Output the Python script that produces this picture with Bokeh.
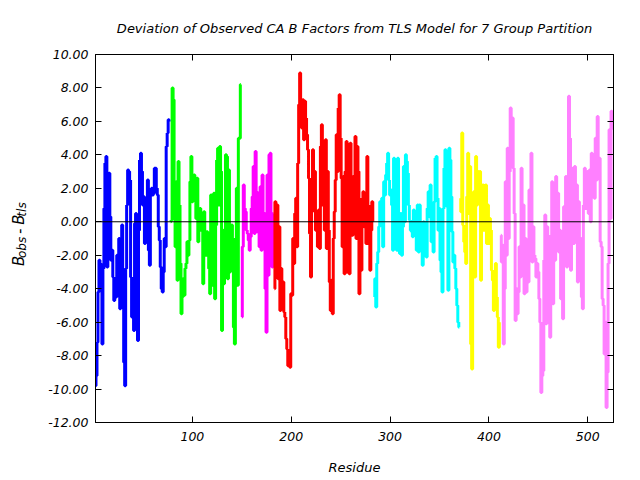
import math
import numpy as np
from bokeh.plotting import figure
from bokeh.layouts import row
from bokeh.models import Range1d, FixedTicker, PrintfTickFormatter, LinearAxis, Span
from bokeh.core.properties import value
from bokeh.embed import file_html
from bokeh.resources import INLINE

# ---- data: deviation per residue, one array per TLS group ----
group_names = ["group1", "group2", "group3", "group4", "group5", "group6", "group7"]
group_colors = ["#0000ff", "#00ff00", "#ff00ff", "#ff0000", "#00ffff", "#ffff00", "#ff80ff"]
group_starts = [2, 78, 150, 183, 284, 371, 412]

g1 = [-9.8, -9.2, -7.2, -4.2, -2.3, -2.5, -3.8, -7.3, -2.8, 0.8, 3.5, 3.9, -2.7, 2.5, 2.9, 0.3,
      -2.3, -1.7, -3.3, -4.7, -3.7, -4.5, -2.0, -4.1, -1.0, -5.2, -1.5, -0.2, -5.0, -8.4, -9.8, -2.8,
      1.0, 3.1, 3.0, 2.5, -3.3, -5.7, -3.5, -6.5, -0.1, 0.5, -3.7, -7.1, -0.5, 3.7, 4.1, 3.0,
      1.0, 1.5, -1.3, 0.5, -0.5, 2.5, -1.7, -2.6, 1.8, 2.0, 1.6, 1.7, 3.2, 3.2, 2.0, 1.6,
      -0.3, -1.1, -2.7, -4.0, -4.2, -3.0, -1.0, -1.5, 4.5, 5.3, 6.1, 6.0]
g2 = [0.0, 0.1, 8.0, 7.3, 2.0, -1.5, 2.4, -3.5, 3.6, 1.0, -2.5, -5.5, -4.5, -3.4, -4.4, -2.8,
      -2.5, -1.2, -2.0, -1.1, 2.4, 3.9, 1.2, 2.2, 2.8, 1.5, 0.2, 2.6, -1.2, 0.5, 0.8, -0.5,
      -0.1, -3.7, 0.6, -0.6, -2.0, -0.6, -0.7, -2.8, -4.3, 1.6, -1.2, -3.8, 1.7, -4.6, -0.2, 3.7,
      4.4, 1.0, 4.5, 3.0, -6.5, -0.5, -3.7, -1.5, 4.0, 3.9, -3.4, 3.1, -3.0, -0.5, -0.2, -1.0,
      -6.3, -7.3, -1.0, 2.0, -3.8, 5.0, 5.0, 8.2]
g3 = [-5.7, -1.5, 2.2, 0.8, 0.6, -0.5, -0.7, -1.1, -1.7, -0.9, 0.8, 1.5, 3.3, -0.7, 4.2, 1.8,
      -0.6, 1.5, -1.5, 2.1, -1.7, 2.8, -1.0, 0.5, -4.0, -6.6, 2.8, -3.2, 4.0, 4.1, -0.5, -2.7, 0.5]
g4 = [-4.0, 1.2, -0.5, 1.0, -3.4, -0.3, -5.3, -2.8, -4.4, -3.6, -5.4, -5.7, -7.0, -7.6, -8.6, -7.8,
      -8.7, -4.3, -4.4, -1.0, -2.5, 0.5, 1.4, -1.5, 3.5, 7.0, 8.9, 6.7, 5.6, 7.3, 4.9, 7.2,
      6.2, 5.2, 4.3, 2.6, -0.7, -3.3, 0.6, 4.3, 2.0, 3.0, -0.5, 0.6, -1.5, 0.7, -1.6, 4.5,
      5.8, 1.0, 4.8, -0.5, 4.9, -1.6, 3.0, -0.5, -3.6, -5.3, -3.5, -5.5, -1.0, 0.6, 2.5, 5.2,
      3.0, 6.8, 7.6, 5.0, 2.6, -1.5, 2.7, -3.1, 3.0, 4.8, -3.0, 0.5, -3.1, 4.7, 0.3, -0.8,
      2.7, 0.5, 5.1, -1.0, 4.5, 3.0, -4.3, 0.0, -2.9, 1.4, 1.8, -0.3, 1.2, -1.3, 3.9, 1.0,
      -1.3, -2.9, -0.5, 1.2, 0.0]
g5 = [-4.5, -3.4, -5.1, -2.5, -1.8, -0.3, 1.2, 0.3, 1.4, -1.5, 2.4, 1.6, 2.8, 3.5, 4.1, 2.5,
      1.6, 1.9, 1.0, -1.7, 3.8, 1.5, 0.0, -1.7, 3.8, -1.1, -1.9, 0.5, -2.0, -0.3, 3.3, 0.0,
      4.0, 3.6, 2.9, 1.0, 0.1, -0.5, -0.6, -0.9, 0.7, -0.5, 0.3, -1.7, 1.0, -1.8, 1.0, -0.4,
      -0.6, -2.6, 0.0, -1.5, -0.4, -2.1, 0.8, 1.8, 0.3, 2.2, -1.2, 1.0, -1.8, 1.2, 3.8, 3.9,
      1.4, -0.5, 0.8, -2.3, -3.0, -4.2, 0.8, 3.2, 4.3, 1.0, 0.9, -4.1, 4.4, 3.7, 1.5, -0.6,
      -2.4, -2.0, -2.8, -4.0, -5.0, -6.0, -6.3]
g6 = [1.4, 0.6, 5.3, -0.2, -1.2, -1.8, -2.5, 1.5, 4.1, 0.5, 3.3, -7.3, -8.8, -2.8, 1.8, -3.3,
      3.9, 1.0, 3.0, 1.2, 3.0, -3.5, 0.0, 2.2, -0.5, 2.0, 2.2, -1.3, 1.0, -1.3, 0.2, -0.5,
      -2.9, -3.5, -5.3, -4.2, -2.5, -4.5, -5.7, -7.5, -6.0]
g7 = [-0.8, -2.4, -1.4, -7.3, -4.0, 2.4, -2.0, 4.4, -1.0, 3.0, 6.8, 5.6, 6.2, 3.2, 0.5, -5.9,
      -4.0, -5.5, -4.2, -1.5, -3.3, 3.2, -2.0, 1.0, -4.3, -1.0, -4.2, -1.5, -3.6, 1.9, 0.0, 4.1,
      -2.4, -0.3, -2.0, -2.2, -3.3, -2.5, -3.0, -4.6, -6.0, -10.2, -9.2, -8.9, -2.3, 0.4, -6.1, -0.3,
      -3.3, -1.0, -6.9, -0.8, 2.4, -4.9, 1.8, -2.3, 2.7, -0.5, 1.7, -1.8, -0.5, -4.6, -1.8, -5.8,
      0.9, -1.5, 2.7, -2.7, 1.5, 7.5, 5.0, -2.9, 2.0, 3.2, -1.3, 3.3, 0.5, 2.2, -3.6, 1.2,
      -1.3, -1.0, -4.5, -5.2, 1.0, 3.2, 0.8, 2.4, 3.0, 0.5, 3.1, 0.0, 4.1, 2.0, 4.0, 1.4,
      5.0, 2.5, 6.3, 3.1, 3.8, -1.2, -1.5, -4.6, -5.0, -7.9, -6.0, -11.1, -9.0, -2.5, 5.5, 0.2,
      6.6, 5.5]
group_values = [g1, g2, g3, g4, g5, g6, g7]

x_ticks = [100, 200, 300, 400, 500]
y_ticks = [-12, -10, -8, -6, -4, -2, 0, 2, 4, 6, 8, 10]

title_text = "Deviation of Observed CA B Factors from TLS Model for 7 Group Partition"
x_label = "Residue"
# y label "B_obs - B_tls", drawn piece by piece
ylab_text = ["B", "obs", "-", "B", "tls"]

FONT = "DejaVu Sans"

fig = figure(width=610, height=480, output_backend="svg", toolbar_location=None,
             x_range=Range1d(2, 526), y_range=Range1d(-12, 10),
             min_border_left=65, min_border_right=27, min_border_top=54, min_border_bottom=58)
fig.background_fill_color = "white"
fig.border_fill_color = "white"
fig.grid.visible = False
fig.outline_line_color = "black"
fig.outline_line_width = 1

for start, vals, col in zip(group_starts, group_values, group_colors):
    xs = np.arange(start, start + len(vals))
    fig.step(xs, vals, mode="center", line_color=col, line_width=3)

fig.add_layout(Span(location=0, dimension="width", line_color="black", line_width=1))

def style_axis(ax, ticks, show_labels):
    ax.ticker = FixedTicker(ticks=ticks)
    ax.major_tick_in = 6
    ax.major_tick_out = 0
    ax.minor_tick_line_color = None
    ax.axis_line_color = "black"
    ax.major_tick_line_color = "black"
    ax.major_label_text_font = FONT
    ax.major_label_text_font_style = "italic"
    if show_labels:
        ax.major_label_text_font_size = "12.5px"
        ax.major_label_text_color = "black"
    else:
        ax.major_label_text_font_size = "1px"
        ax.major_label_text_color = None
        ax.major_label_standoff = 0

style_axis(fig.xaxis[0], x_ticks, True)
fig.xaxis[0].major_label_standoff = 9
fig.xaxis[0].axis_label = x_label
fig.xaxis[0].axis_label_text_font = FONT
fig.xaxis[0].axis_label_text_font_style = "italic"
fig.xaxis[0].axis_label_text_font_size = "13px"
fig.xaxis[0].axis_label_text_color = "black"
fig.xaxis[0].axis_label_standoff = 16

style_axis(fig.yaxis[0], y_ticks, True)
fig.yaxis[0].formatter = PrintfTickFormatter(format="%.2f")
fig.yaxis[0].major_label_standoff = 7

top_ax = LinearAxis()
style_axis(top_ax, x_ticks, False)
fig.add_layout(top_ax, "above")
right_ax = LinearAxis()
style_axis(right_ax, y_ticks, False)
fig.add_layout(right_ax, "right")

fig.title.text = title_text
fig.title.align = "center"
fig.title.text_font = FONT
fig.title.text_font_style = "italic"
fig.title.text_font_size = "13px"
fig.title.text_color = "black"
fig.title.standoff = 37

# narrow panel holding the rotated y-axis label (canvas pixel coordinates)
ylab = figure(width=30, height=480, output_backend="svg", toolbar_location=None, title=None,
              x_range=Range1d(0, 30), y_range=Range1d(0, 480), min_border=0)
ylab.axis.visible = False
ylab.grid.visible = False
ylab.outline_line_color = None
ylab.background_fill_color = "white"
ylab.border_fill_color = "white"

ylab_x = [18, 21.5, 18, 18, 21.5]
ylab_y = [204, 214.5, 246, 258, 268.5]
ylab_size = ["15px", "12px", "15px", "15px", "12px"]
for t, xx, yy, fs in zip(ylab_text, ylab_x, ylab_y, ylab_size):
    ylab.text(x=[xx], y=[yy], text=[t], angle=math.pi / 2, text_align="left",
              text_baseline="alphabetic", text_font=value(FONT), text_font_style="italic",
              text_font_size=value(fs), text_color="black")

p = row(ylab, fig, spacing=0)

open("out.html", "w").write(file_html(p, INLINE))
